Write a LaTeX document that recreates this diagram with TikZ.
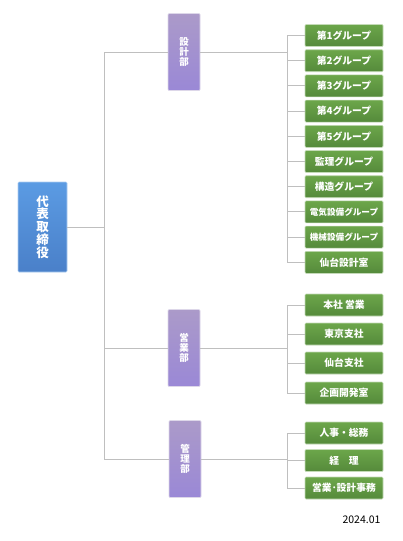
\documentclass[tikz,border=0pt]{standalone}
\usepackage{fontspec}
\setmainfont{Noto Sans CJK JP}
\usepackage{tikz}
\usetikzlibrary{calc,positioning}
\definecolor{linec}{HTML}{BFBFBF}
\definecolor{ceot}{HTML}{5B9BE3}
\definecolor{ceob}{HTML}{4A80C9}
\definecolor{deptt}{HTML}{AB9AC9}
\definecolor{deptb}{HTML}{9A88D6}
\definecolor{grpt}{HTML}{6CA64A}
\definecolor{grpb}{HTML}{558A3B}
\tikzset{
  link/.style={linec,line width=1pt},
  ceobox/.style={draw=ceot!50!white,line width=0.6pt,top color=ceot,bottom color=ceob,rounded corners=1pt,
    minimum width=49pt,minimum height=90pt,inner sep=0pt,text=white,align=center,font=\fontsize{12.5}{12.8}\selectfont\bfseries},
  dept/.style={draw=deptt!40!white,line width=0.6pt,top color=deptt,bottom color=deptb,rounded corners=1pt,
    minimum width=32pt,minimum height=77pt,inner sep=0pt,text=white,align=center,font=\fontsize{9.5}{10}\selectfont\bfseries},
  grp/.style={draw=grpt!40!white,line width=0.6pt,top color=grpt,bottom color=grpb,rounded corners=1pt,
    minimum width=78pt,minimum height=22pt,inner sep=0pt,text=white,font=\fontsize{9.8}{10}\selectfont\bfseries}
}
\begin{document}
\begin{tikzpicture}[x=1pt,y=-1pt]
\useasboundingbox (0,0) rectangle (403,541);
\coordinate (tk) at (104,0);
\coordinate (bus) at (287,0);
% top
\node[ceobox] (ceo) at (42.5,227) {代\\表\\取\\締\\役};
% departments
\node[dept] (sekkei) at (184,52) {設\\計\\部};
\node[dept] (eigyo) at (184,348) {営\\業\\部};
\node[dept] (kanri) at (185,459) {管\\理\\部};
% groups
\foreach \t [count=\i] in {第1グループ,第2グループ,第3グループ,第4グループ,第5グループ,監理グループ,構造グループ,
  {\fontsize{8.6}{9}\selectfont 電気設備グループ},{\fontsize{8.6}{9}\selectfont 機械設備グループ},仙台設計室}
  \node[grp] (s\i) at (344,{35.5+25.2*(\i-1)}) {\t};
\foreach \t/\y [count=\i] in {本社 営業/305,東京支社/334,仙台支社/363,企画開発室/393}
  \node[grp] (e\i) at (344,\y) {\t};
\foreach \t/\y [count=\i] in {人事・総務/433,経\hspace{1em}理/460.5,営業･設計事務/488}
  \node[grp] (k\i) at (344,\y) {\t};
\node[anchor=east,font=\fontsize{10.5}{11}\selectfont] (date) at (384,520) {2024.01};
% connectors
\draw[link] (ceo.east) -- (ceo.east -| tk);
\draw[link] (sekkei.west) -| (tk |- kanri.west) -- (kanri.west);
\draw[link] (eigyo.west) -- (eigyo.west -| tk);
\draw[link] (sekkei.east) -- (sekkei.east -| bus);
\draw[link] (eigyo.east) -- (eigyo.east -| bus);
\draw[link] (kanri.east) -- (kanri.east -| bus);
\draw[link] (s1.west -| bus) -- (s10.west -| bus);
\draw[link] (e1.west -| bus) -- (e4.west -| bus);
\draw[link] (k1.west -| bus) -- (k3.west -| bus);
\foreach \n in {s1,s2,s3,s4,s5,s6,s7,s8,s9,s10,e1,e2,e3,e4,k1,k2,k3}
  \draw[link] (\n.west) -- (\n.west -| bus);
\end{tikzpicture}
\end{document}
